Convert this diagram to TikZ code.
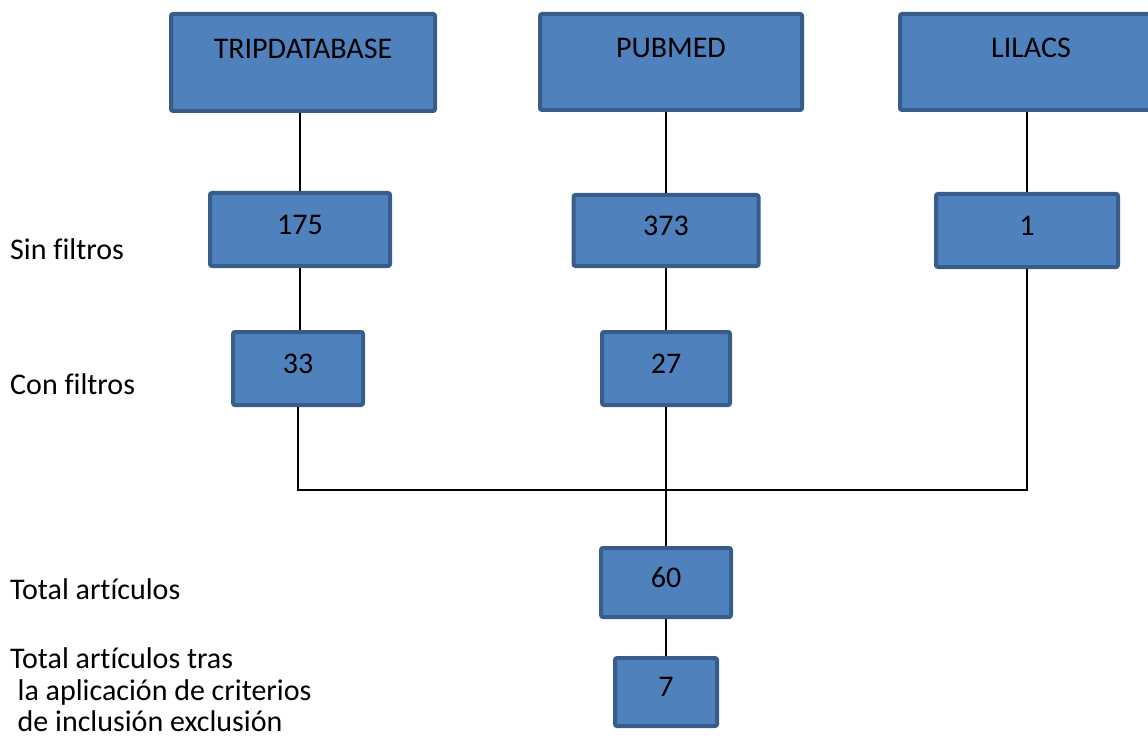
\documentclass[tikz,border=0pt]{standalone}
\usepackage{fontspec}
\setmainfont{Carlito}[Ligatures=NoCommon]
\definecolor{boxfill}{HTML}{4F81BD}
\definecolor{boxline}{HTML}{385D8A}
\tikzset{
  dbbox/.style={draw=boxline, fill=boxfill, line width=4pt, rounded corners=2pt,
    inner sep=0pt, text height=20pt, text depth=28pt},
  numbox/.style={draw=boxline, fill=boxfill, line width=4pt, rounded corners=2pt,
    inner sep=0pt, text height=19pt, text depth=10pt},
  rowlabel/.style={anchor=base west, inner sep=0pt, align=left},
  link/.style={line width=1.5pt, black}
}
\begin{document}
\begin{tikzpicture}[x=1pt,y=-1pt,font=\fontsize{30}{31.5}\selectfont]
\useasboundingbox (0,0) rectangle (1148,738);
\clip (0,0) rectangle (1148,738);

% bases de datos
\node[dbbox, minimum width=264pt, minimum height=97pt] (trip) at (303,62.5) {TRIPDATABASE};
\node[dbbox, minimum width=262pt, minimum height=96pt] (pubmed) at (671,62) {PUBMED};
\node[dbbox, minimum width=262pt, minimum height=96pt] (lilacs) at (1031,62) {LILACS};

% resultados
\node[numbox, minimum width=180pt, minimum height=73pt] (n175) at (300,229.5) {175};
\node[numbox, minimum width=185pt, minimum height=71pt] (n373) at (666,230.5) {373};
\node[numbox, minimum width=182pt, minimum height=73pt] (n1) at (1027,230.5) {1};
\node[numbox, minimum width=130pt, minimum height=73pt] (n33) at (298,368.5) {33};
\node[numbox, minimum width=128pt, minimum height=73pt] (n27) at (666,368.5) {27};
\node[numbox, minimum width=130pt, minimum height=69pt] (n60) at (666,582.5) {60};
\node[numbox, minimum width=102pt, minimum height=68pt] (n7) at (666,692) {7};

\coordinate (join) at (666,490);

% etiquetas de filas
\node[rowlabel] (sinf) at (10,259) {Sin filtros};
\node[rowlabel] (conf) at (10,394) {Con filtros};
\node[rowlabel] (total) at (10,599) {Total artículos};
\node[rowlabel, anchor=west] (tras) at (10,690) {Total artículos tras\\\hspace*{0.25em}la aplicación de criterios\\\hspace*{0.25em}de inclusión exclusión};

% conexiones
\draw[link] (trip.south -| n175) -- (n175.north);
\draw[link] (n175.south) -- (n33.north -| n175);
\draw[link] (pubmed.south -| n373) -- (n373.north);
\draw[link] (n373.south) -- (n27.north);
\draw[link] (lilacs.south -| n1) -- (n1.north);
\draw[link] (n33.south) |- (join) -| (n1.south);
\draw[link] (n27.south) -- (n60.north);
\draw[link] (n60.south) -- (n7.north);
\end{tikzpicture}
\end{document}
